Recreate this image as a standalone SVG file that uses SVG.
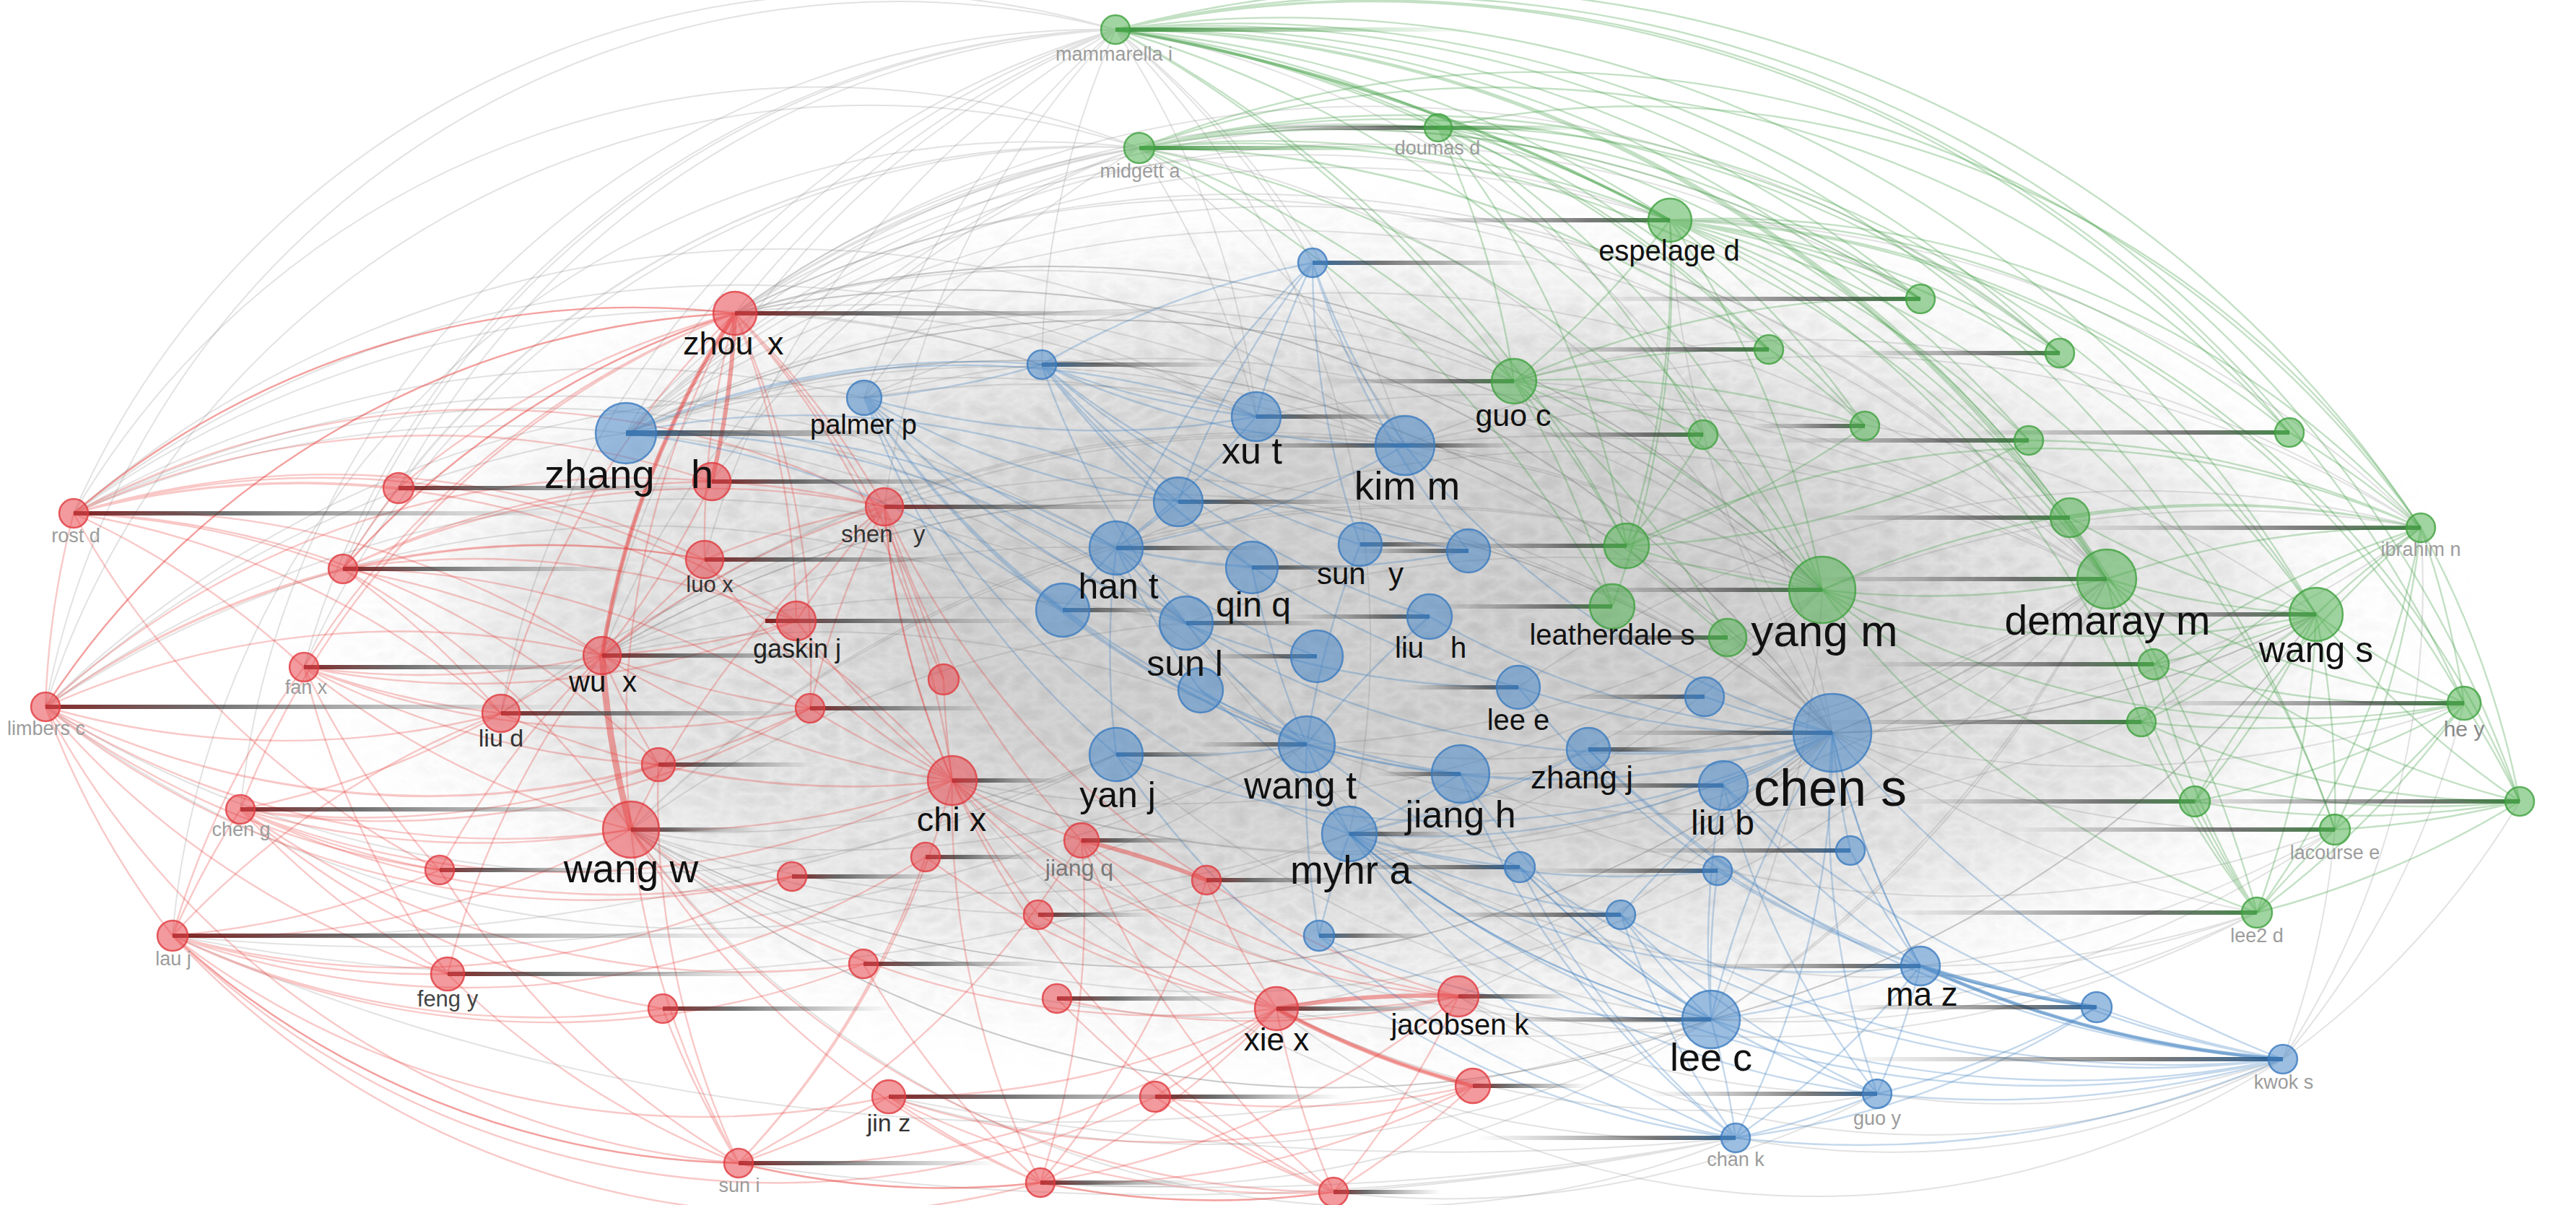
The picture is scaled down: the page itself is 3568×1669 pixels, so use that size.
<svg xmlns="http://www.w3.org/2000/svg" width="3568" height="1669" viewBox="0 0 3568 1669">
<defs>
<style>
.er{fill:none;stroke:#e53935;stroke-opacity:.28;stroke-width:2.4}
.eb{fill:none;stroke:#3b7dc0;stroke-opacity:.3;stroke-width:2.4}
.eg{fill:none;stroke:#43a047;stroke-opacity:.32;stroke-width:2.4}
.ex{fill:none;stroke:#7a7a7a;stroke-opacity:.22;stroke-width:2}
.nr{fill:#e8474c;fill-opacity:.55;stroke:#e0393e;stroke-opacity:.8;stroke-width:2.5}
.nb{fill:#4a89c8;fill-opacity:.55;stroke:#3a7bbf;stroke-opacity:.8;stroke-width:2.5}
.ng{fill:#52b152;fill-opacity:.55;stroke:#3fa13f;stroke-opacity:.8;stroke-width:2.5}
text{font-family:"Liberation Sans",Arial,Helvetica,sans-serif}
.lb{fill:#111;text-anchor:middle}
.ls{fill:#111}
.lf{fill:#9c9c9c;text-anchor:middle;font-size:27px}
.sr{fill:url(#rR)}
.sbr{fill:url(#bR)}
.sbl{fill:url(#bL)}
.sgl{fill:url(#gL)}
.sgr{fill:url(#gR)}
</style>
<linearGradient id="rR"><stop offset="0" stop-color="#7a1010" stop-opacity=".9"/><stop offset=".3" stop-color="#333" stop-opacity=".7"/><stop offset="1" stop-color="#666" stop-opacity="0"/></linearGradient>
<linearGradient id="bR"><stop offset="0" stop-color="#1d5a96" stop-opacity=".9"/><stop offset=".3" stop-color="#333" stop-opacity=".65"/><stop offset="1" stop-color="#666" stop-opacity="0"/></linearGradient>
<linearGradient id="bL" x1="1" x2="0"><stop offset="0" stop-color="#1d5a96" stop-opacity=".9"/><stop offset=".3" stop-color="#333" stop-opacity=".65"/><stop offset="1" stop-color="#666" stop-opacity="0"/></linearGradient>
<linearGradient id="gL" x1="1" x2="0"><stop offset="0" stop-color="#2e7d32" stop-opacity=".9"/><stop offset=".3" stop-color="#333" stop-opacity=".65"/><stop offset="1" stop-color="#666" stop-opacity="0"/></linearGradient>
<linearGradient id="gR"><stop offset="0" stop-color="#2e8d32" stop-opacity=".9"/><stop offset=".4" stop-color="#3c8c3c" stop-opacity=".5"/><stop offset="1" stop-color="#4caf50" stop-opacity="0"/></linearGradient>
<filter id="bl" x="-50%" y="-50%" width="200%" height="200%"><feGaussianBlur stdDeviation="70"/></filter>
<filter id="tex" x="0" y="0" width="1" height="1"><feTurbulence type="turbulence" baseFrequency="0.03 0.05" numOctaves="3" seed="7" result="t"/><feColorMatrix in="t" type="matrix" values="0 0 0 0 0.42 0 0 0 0 0.42 0 0 0 0 0.42 1.6 0 0 0 -0.05"/></filter>
<radialGradient id="mg"><stop offset="0" stop-color="#fff"/><stop offset=".55" stop-color="#fff" stop-opacity=".7"/><stop offset="1" stop-color="#fff" stop-opacity="0"/></radialGradient>
<mask id="mm"><ellipse cx="1900" cy="880" rx="1550" ry="640" fill="url(#mg)"/></mask>
</defs>
<rect width="3568" height="1669" fill="#fff"/>
<g id="haze">
<ellipse cx="1900" cy="880" rx="1250" ry="470" fill="#9e9e9e" opacity=".24" filter="url(#bl)"/>
<ellipse cx="1950" cy="870" rx="750" ry="330" fill="#8a8a8a" opacity=".2" filter="url(#bl)"/>
<rect x="300" y="200" width="3200" height="1400" fill="#000" filter="url(#tex)" mask="url(#mm)" opacity=".45"/>
</g>
<g id="connectors">
<path class="ex" d="M1545 41A1200 1200 0 0 0 102 711M1545 41A1200 1200 0 0 0 63 979M1545 41A1200 1200 0 0 0 475 788M1545 41A1200 1200 0 0 0 552 676M1545 41A1200 1200 0 0 0 1018 434M1545 41A1200 1200 0 0 0 867 600M1545 41A1200 1200 0 0 0 421 924M1545 41A1200 1200 0 0 0 333 1121M1545 41A1200 1200 0 0 0 1197 551M1545 41A1200 1200 0 0 0 1443 505M1545 41A1200 1200 0 0 0 976 775M1545 41A1200 1200 0 0 0 1225 702M1545 41A1200 1200 0 0 0 834 908M1545 41A1200 1200 0 0 0 694 988M1545 41A1200 1200 0 0 1 1740 577M1545 41A1200 1200 0 0 1 1946 617M1545 41A1200 1200 0 0 1 1818 364M1545 41A1200 1200 0 0 1 2538 1015M1545 41A1200 1200 0 0 1 1869 1155"/>
<path class="ex" d="M1578 205A1200 1200 0 0 0 102 711M1578 205A1200 1200 0 0 0 63 979M1578 205A1200 1200 0 0 0 552 676M1578 205A1200 1200 0 0 0 1018 434M1578 205A1200 1200 0 0 0 867 600M1578 205A1200 1200 0 0 0 475 788M1578 205A1200 1200 0 0 0 986 667M1578 205A1200 1200 0 0 0 1197 551M1578 205A1200 1200 0 0 0 834 908M1578 205A1200 1200 0 0 0 421 924M1578 205A1200 1200 0 0 0 239 1296M1578 205A1200 1200 0 0 1 1946 617M1578 205A1200 1200 0 0 1 1740 577M1578 205A1200 1200 0 0 1 2538 1015"/>
<path class="ex" d="M1018 434A1500 1500 0 0 1 1992 177M1018 434A1500 1500 0 0 1 2313 305M1018 434A1500 1500 0 0 1 2660 414M1018 434A1500 1500 0 0 1 2097 528M1018 434A1500 1500 0 0 1 2450 484M1018 434A1500 1500 0 0 1 1946 617M1018 434A1500 1500 0 0 1 1740 577M1018 434A1500 1500 0 0 1 2524 817M1018 434A1500 1500 0 0 1 2538 1015M1018 434A1500 1500 0 0 1 1443 505M1018 434A1500 1500 0 0 1 2853 489"/>
<path class="ex" d="M867 600A1500 1500 0 0 1 1946 617M867 600A1500 1500 0 0 1 2097 528M867 600A1500 1500 0 0 1 2524 817M867 600A1500 1500 0 0 1 2918 802M867 600A1500 1500 0 0 1 2538 1015M867 600A1500 1500 0 0 1 2313 305M867 600A1500 1500 0 0 1 1740 577M867 600A1500 1500 0 0 1 1992 177M867 600A1500 1500 0 0 1 2660 414M867 600A1500 1500 0 0 1 1810 1031"/>
<path class="ex" d="M2538 1015A1500 1500 0 0 0 1018 434M2538 1015A1500 1500 0 0 0 867 600M2538 1015A1500 1500 0 0 0 1197 551M2538 1015A1500 1500 0 0 0 834 908M2538 1015A1500 1500 0 0 0 1225 702M2538 1015A1500 1500 0 0 0 694 988M2538 1015A1500 1500 0 0 0 2918 802M2538 1015A1500 1500 0 0 0 3208 851M2538 1015A1500 1500 0 0 0 3413 974M2538 1015A1500 1500 0 0 1 874 1149M2538 1015A1500 1500 0 0 1 1768 1397M2538 1015A1500 1500 0 0 1 2020 1380M2538 1015A1500 1500 0 0 1 1319 1081M2538 1015A1500 1500 0 0 1 2313 305"/>
<path class="ex" d="M2524 817A1500 1500 0 0 0 867 600M2524 817A1500 1500 0 0 0 1018 434M2524 817A1500 1500 0 0 0 1546 759M2524 817A1500 1500 0 0 0 1643 863M2524 817A1500 1500 0 0 0 1225 702M2524 817A1500 1500 0 0 0 1197 551M2524 817A1500 1500 0 0 1 1810 1031M2524 817A1500 1500 0 0 1 1869 1155M2524 817A1500 1500 0 0 1 1319 1081M2524 817A1500 1500 0 0 1 874 1149M2524 817A1500 1500 0 0 1 2370 1412"/>
<path class="ex" d="M2918 802A1600 1600 0 0 0 1018 434M2918 802A1600 1600 0 0 0 867 600M2918 802A1600 1600 0 0 0 1546 759M2918 802A1600 1600 0 0 0 1740 577M2918 802A1600 1600 0 0 0 1946 617M2918 802A1600 1600 0 0 0 2097 528M2918 802A1600 1600 0 0 0 1197 551M2918 802A1600 1600 0 0 1 1810 1031M2918 802A1600 1600 0 0 1 2023 1072M2918 802A1600 1600 0 0 1 2538 1015M2918 802A1600 1600 0 0 1 874 1149M2918 802A1600 1600 0 0 1 1319 1081M2918 802A1600 1600 0 0 1 2370 1412"/>
<path class="ex" d="M874 1149A1500 1500 0 0 1 1643 863M874 1149A1500 1500 0 0 1 1546 759M874 1149A1500 1500 0 0 1 2524 817M874 1149A1500 1500 0 0 0 1546 1045M874 1149A1500 1500 0 0 0 1810 1031M874 1149A1500 1500 0 0 0 2538 1015M874 1149A1500 1500 0 0 0 1869 1155M874 1149A1500 1500 0 0 0 2370 1412M874 1149A1500 1500 0 0 0 2020 1380"/>
<path class="ex" d="M834 908A1500 1500 0 0 1 1643 863M834 908A1500 1500 0 0 1 1546 759M834 908A1500 1500 0 0 1 1946 617M834 908A1500 1500 0 0 1 2538 1015M834 908A1500 1500 0 0 1 2524 817M834 908A1500 1500 0 0 1 1810 1031"/>
<path class="ex" d="M2370 1412A1500 1500 0 0 1 1319 1081M2370 1412A1500 1500 0 0 1 874 1149M2370 1412A1500 1500 0 0 1 1768 1397M2370 1412A1500 1500 0 0 1 1231 1519M2370 1412A1500 1500 0 0 1 1441 1638M2370 1412A1500 1500 0 0 1 1643 863M2370 1412A1500 1500 0 0 1 1546 1045M2370 1412A1500 1500 0 0 0 2918 802M2370 1412A1500 1500 0 0 0 3208 851"/>
<path class="ex" d="M239 1296A3000 3000 0 0 0 1546 1045M239 1296A3000 3000 0 0 0 1869 1155M239 1296A3000 3000 0 0 0 2370 1412M239 1296A3000 3000 0 0 0 1810 1031"/>
<path class="ex" d="M102 711A1500 1500 0 0 1 1546 759M102 711A1500 1500 0 0 1 1643 863M102 711A1500 1500 0 0 1 1740 577M102 711A1500 1500 0 0 1 1197 551M102 711A1500 1500 0 0 1 867 600M102 711A1500 1500 0 0 1 1443 505M102 711A1500 1500 0 0 1 1946 617"/>
<path class="ex" d="M63 979A1500 1500 0 0 0 1546 1045M63 979A1500 1500 0 0 0 1810 1031M63 979A1500 1500 0 0 1 1472 845M63 979A1500 1500 0 0 1 1643 863M63 979A1500 1500 0 0 1 1197 551M63 979A1500 1500 0 0 1 867 600"/>
<path class="ex" d="M2404 1576A4000 4000 0 0 1 1847 1651M2404 1576A4000 4000 0 0 1 1441 1638M2404 1576A4000 4000 0 0 1 1023 1611M2404 1576A4000 4000 0 0 1 1231 1519M2404 1576A1300 1300 0 0 1 874 1149M2404 1576A1300 1300 0 0 1 1319 1081"/>
<path class="ex" d="M3162 1467A1200 1200 0 0 0 3490 1110M3162 1467A1200 1200 0 0 0 3413 974M3162 1467A1200 1200 0 0 0 3234 1149M3162 1467A1200 1200 0 0 0 3353 731M3162 1467A1200 1200 0 0 1 2404 1576M3162 1467A1200 1200 0 0 1 2020 1380M3162 1467A1200 1200 0 0 1 1768 1397M3162 1467A1200 1200 0 0 1 2600 1515"/>
<path class="ex" d="M2600 1515A1300 1300 0 0 1 2020 1380M2600 1515A1300 1300 0 0 1 1768 1397M2600 1515A1300 1300 0 0 1 1847 1651"/>
<path class="ex" d="M3353 731A1500 1500 0 0 0 1946 617M3353 731A1500 1500 0 0 0 2103 952M3353 731A1500 1500 0 0 0 2524 817M3353 731A1500 1500 0 0 0 2313 305M3353 731A1500 1500 0 0 0 2097 528M3353 731A1500 1500 0 0 1 2538 1015"/>
<path class="ex" d="M3208 851A1500 1500 0 0 1 2538 1015M3208 851A1500 1500 0 0 1 1810 1031M3208 851A1500 1500 0 0 1 2370 1412M3208 851A1500 1500 0 0 0 1946 617"/>
<path class="ex" d="M3234 1149A1500 1500 0 0 1 2538 1015M3234 1149A1500 1500 0 0 1 2370 1412M3234 1149A1500 1500 0 0 1 2660 1338M3234 1149A1500 1500 0 0 1 2023 1072"/>
<path class="ex" d="M3126 1264A1500 1500 0 0 1 2370 1412M3126 1264A1500 1500 0 0 1 2538 1015M3126 1264A1500 1500 0 0 1 2660 1338M3126 1264A1500 1500 0 0 1 2020 1380M3126 1264A1500 1500 0 0 1 1869 1155"/>

<path class="er" d="M102 711A1200 1200 0 0 1 552 676M102 711A1200 1200 0 0 1 475 788M102 711A1200 1200 0 0 1 421 924M102 711A1200 1200 0 0 1 834 908M102 711A1200 1200 0 0 1 694 988M102 711A1200 1200 0 0 1 912 1059M102 711A1200 1200 0 0 1 986 667M102 711A1200 1200 0 0 1 976 775M102 711A1200 1200 0 0 1 1103 860M102 711A1200 1200 0 0 1 1319 1081M102 711A1200 1200 0 0 1 1018 434M102 711A1200 1200 0 0 1 1225 702M102 711A1200 1200 0 0 0 63 979M102 711A1200 1200 0 0 0 609 1205"/>
<path class="er" d="M63 979A1200 1200 0 0 1 475 788M63 979A1200 1200 0 0 1 986 667M63 979A1200 1200 0 0 1 834 908M63 979A1200 1200 0 0 1 976 775M63 979A1200 1200 0 0 1 1018 434M63 979A1200 1200 0 0 0 694 988M63 979A1200 1200 0 0 0 874 1149M63 979A1200 1200 0 0 0 912 1059M63 979A1200 1200 0 0 0 609 1205M63 979A1200 1200 0 0 0 239 1296M63 979A1200 1200 0 0 0 1122 981M63 979A1200 1200 0 0 0 1097 1214M63 979A1200 1200 0 0 0 620 1349M63 979A1200 1200 0 0 0 1023 1611"/>
<path class="er" d="M239 1296A1200 1200 0 0 1 333 1121M239 1296A1200 1200 0 0 1 694 988M239 1296A1200 1200 0 0 1 421 924M239 1296A1200 1200 0 0 0 609 1205M239 1296A1200 1200 0 0 0 620 1349M239 1296A1200 1200 0 0 0 874 1149M239 1296A1200 1200 0 0 0 1097 1214M239 1296A1200 1200 0 0 0 1282 1187M239 1296A1200 1200 0 0 0 1196 1335M239 1296A1200 1200 0 0 0 1023 1611M239 1296A1200 1200 0 0 0 1231 1519M239 1296A1200 1200 0 0 0 1441 1638M239 1296A1200 1200 0 0 0 918 1397M239 1296A1200 1200 0 0 0 1600 1519"/>
<path class="er" d="M333 1121A1200 1200 0 0 0 609 1205M333 1121A1200 1200 0 0 0 874 1149M333 1121A1200 1200 0 0 0 912 1059M333 1121A1200 1200 0 0 0 694 988M333 1121A1200 1200 0 0 0 1122 981M333 1121A1200 1200 0 0 0 1319 1081M333 1121A1200 1200 0 0 0 1097 1214M333 1121A1200 1200 0 0 0 620 1349M333 1121A1200 1200 0 0 0 918 1397M333 1121A1200 1200 0 0 0 1196 1335"/>
<path class="er" d="M475 788A1200 1200 0 0 1 986 667M475 788A1200 1200 0 0 1 976 775M475 788A1200 1200 0 0 1 834 908M475 788A1200 1200 0 0 1 694 988M475 788A1200 1200 0 0 1 1103 860M475 788A1200 1200 0 0 1 1225 702M475 788A1200 1200 0 0 1 1122 981M475 788A1200 1200 0 0 1 874 1149M475 788A1200 1200 0 0 1 1018 434M475 788A1200 1200 0 0 1 552 676"/>
<path class="er" d="M421 924A1200 1200 0 0 0 834 908M421 924A1200 1200 0 0 0 694 988M421 924A1200 1200 0 0 0 912 1059M421 924A1200 1200 0 0 0 874 1149M421 924A1200 1200 0 0 0 1122 981M421 924A1200 1200 0 0 0 1103 860M421 924A1200 1200 0 0 0 609 1205M421 924A1200 1200 0 0 0 620 1349"/>
<path class="er" d="M1018 434A1200 1200 0 0 0 102 711M1018 434A1200 1200 0 0 0 475 788M1018 434A1200 1200 0 0 0 421 924M1018 434A1200 1200 0 0 0 552 676M1018 434A1200 1200 0 0 0 834 908M1018 434A1200 1200 0 0 0 694 988M1018 434A1200 1200 0 0 0 976 775M1018 434A1200 1200 0 0 0 874 1149M1018 434A1200 1200 0 0 0 333 1121M1018 434A1200 1200 0 0 0 63 979M1018 434A1200 1200 0 0 1 1103 860M1018 434A1200 1200 0 0 1 1225 702M1018 434A1200 1200 0 0 1 1307 941M1018 434A1200 1200 0 0 1 1319 1081M1018 434A1200 1200 0 0 1 1122 981"/>
<path class="er" d="M1023 1611A1200 1200 0 0 1 874 1149M1023 1611A1200 1200 0 0 1 912 1059M1023 1611A1200 1200 0 0 1 620 1349M1023 1611A1200 1200 0 0 1 609 1205M1023 1611A1200 1200 0 0 1 239 1296M1023 1611A1200 1200 0 0 1 918 1397M1023 1611A1200 1200 0 0 0 1231 1519M1023 1611A1200 1200 0 0 0 1282 1187M1023 1611A1200 1200 0 0 0 1319 1081M1023 1611A1200 1200 0 0 0 1498 1164M1023 1611A1200 1200 0 0 0 1768 1397M1023 1611A1200 1200 0 0 0 1441 1638"/>
<path class="er" d="M1441 1638A1200 1200 0 0 1 1231 1519M1441 1638A1200 1200 0 0 1 1023 1611M1441 1638A1200 1200 0 0 1 874 1149M1441 1638A1200 1200 0 0 1 1319 1081M1441 1638A1200 1200 0 0 1 1196 1335M1441 1638A1200 1200 0 0 0 1498 1164M1441 1638A1200 1200 0 0 0 1671 1219M1441 1638A1200 1200 0 0 0 1768 1397M1441 1638A1200 1200 0 0 0 2020 1380M1441 1638A1200 1200 0 0 0 1847 1651"/>
<path class="er" d="M1847 1651A1200 1200 0 0 0 2020 1380M1847 1651A1200 1200 0 0 0 2040 1504M1847 1651A1200 1200 0 0 1 1768 1397M1847 1651A1200 1200 0 0 1 1441 1638M1847 1651A1200 1200 0 0 1 1231 1519M1847 1651A1200 1200 0 0 1 1319 1081M1847 1651A1200 1200 0 0 1 1498 1164M1847 1651A1200 1200 0 0 1 874 1149M1847 1651A1200 1200 0 0 1 1464 1383M1847 1651A1200 1200 0 0 1 1600 1519"/>
<path class="er" d="M1768 1397A1200 1200 0 0 1 1319 1081M1768 1397A1200 1200 0 0 1 1498 1164M1768 1397A1200 1200 0 0 1 1282 1187M1768 1397A1200 1200 0 0 1 1438 1267M1768 1397A1200 1200 0 0 1 1231 1519M1768 1397A1200 1200 0 0 1 1600 1519M1768 1397A1200 1200 0 0 1 874 1149M1768 1397A1200 1200 0 0 1 1671 1219"/>
<path class="er" d="M1319 1081A1200 1200 0 0 1 834 908M1319 1081A1200 1200 0 0 1 694 988M1319 1081A1200 1200 0 0 1 912 1059M1319 1081A1200 1200 0 0 1 874 1149M1319 1081A1200 1200 0 0 1 1122 981M1319 1081A1200 1200 0 0 1 1103 860M1319 1081A1200 1200 0 0 1 1307 941M1319 1081A1200 1200 0 0 1 976 775M1319 1081A1200 1200 0 0 1 1225 702M1319 1081A1200 1200 0 0 0 1498 1164M1319 1081A1200 1200 0 0 0 1438 1267"/>
<path class="er" d="M2020 1380A1200 1200 0 0 1 1768 1397M2020 1380A1200 1200 0 0 1 1464 1383M2020 1380A1200 1200 0 0 1 1319 1081M2020 1380A1200 1200 0 0 1 1498 1164M2020 1380A1200 1200 0 0 1 1671 1219M2040 1504A1200 1200 0 0 1 1768 1397M2040 1504A1200 1200 0 0 1 1441 1638M2040 1504A1200 1200 0 0 1 1600 1519M2040 1504A1200 1200 0 0 1 1231 1519"/>
<path class="er" d="M1225 702A1200 1200 0 0 0 986 667M1225 702A1200 1200 0 0 0 976 775M1225 702A1200 1200 0 0 0 1103 860M1225 702A1200 1200 0 0 0 834 908M1225 702A1200 1200 0 0 0 1307 941M1225 702A1200 1200 0 0 0 1122 981M1225 702A1200 1200 0 0 0 874 1149M1225 702A1200 1200 0 0 0 1319 1081M1225 702A1200 1200 0 0 0 1498 1164M1225 702A1200 1200 0 0 0 1671 1219"/>
<path class="er" d="M834 908A1200 1200 0 0 0 694 988M834 908A1200 1200 0 0 0 912 1059M834 908A1200 1200 0 0 0 1122 981M834 908A1200 1200 0 0 0 1103 860M834 908A1200 1200 0 0 0 976 775M834 908A1200 1200 0 0 0 986 667M834 908A1200 1200 0 0 0 609 1205M834 908A1200 1200 0 0 0 620 1349"/>
<path class="er" style="stroke-width:6;stroke-opacity:.45" d="M1018 434A1200 1200 0 0 0 834 908M1018 434A1200 1200 0 0 1 986 667M1768 1397A1200 1200 0 0 1 2020 1380M1498 1164A1200 1200 0 0 1 1671 1219M1768 1397A1200 1200 0 0 0 2040 1504"/>
<path class="er" style="stroke-width:9;stroke-opacity:.45" d="M834 908A1200 1200 0 0 0 874 1149"/>

<path class="eb" d="M3162 1467A1500 1500 0 0 1 2660 1338M3162 1467A1500 1500 0 0 1 2904 1395M3162 1467A1500 1500 0 0 1 2370 1412M3162 1467A1500 1500 0 0 1 2538 1015M3162 1467A1500 1500 0 0 1 2387 1088M3162 1467A1500 1500 0 0 1 2245 1267M3162 1467A1500 1500 0 0 1 2600 1515M3162 1467A1500 1500 0 0 1 2404 1576M3162 1467A1500 1500 0 0 1 2105 1201M3162 1467A1500 1500 0 0 1 1869 1155M3162 1467A1500 1500 0 0 1 2200 1038"/>
<path class="eb" d="M2404 1576A1200 1200 0 0 0 2370 1412M2404 1576A1200 1200 0 0 0 2600 1515M2404 1576A1200 1200 0 0 0 2660 1338M2404 1576A1200 1200 0 0 0 2904 1395M2404 1576A1200 1200 0 0 0 2538 1015M2404 1576A1200 1200 0 0 1 1869 1155M2404 1576A1200 1200 0 0 1 2023 1072M2404 1576A1200 1200 0 0 1 2105 1201M2404 1576A1200 1200 0 0 1 1827 1296M2404 1576A1200 1200 0 0 1 2245 1267M2404 1576A1200 1200 0 0 1 1546 1045"/>
<path class="eb" d="M2600 1515A1200 1200 0 0 1 2370 1412M2600 1515A1200 1200 0 0 1 2538 1015M2600 1515A1200 1200 0 0 1 2387 1088M2600 1515A1200 1200 0 0 1 2245 1267M2600 1515A1200 1200 0 0 1 2105 1201M2600 1515A1200 1200 0 0 1 1869 1155M2600 1515A1200 1200 0 0 0 2660 1338M2600 1515A1200 1200 0 0 0 2904 1395"/>
<path class="eb" d="M2660 1338A1200 1200 0 0 1 2538 1015M2660 1338A1200 1200 0 0 1 2387 1088M2660 1338A1200 1200 0 0 1 2370 1412M2660 1338A1200 1200 0 0 1 2379 1206M2660 1338A1200 1200 0 0 1 2563 1178M2660 1338A1200 1200 0 0 1 2200 1038M2660 1338A1200 1200 0 0 1 2103 952M2660 1338A1200 1200 0 0 1 1869 1155M2660 1338A1200 1200 0 0 0 2904 1395"/>
<path class="eb" d="M867 600A1200 1200 0 0 1 1443 505M867 600A1200 1200 0 0 1 1546 759M867 600A1200 1200 0 0 1 1632 695M867 600A1200 1200 0 0 1 1740 577M867 600A1200 1200 0 0 1 1472 845M867 600A1200 1200 0 0 1 1643 863"/>
<path class="eb" d="M1197 551A1200 1200 0 0 0 1443 505M1197 551A1200 1200 0 0 0 1740 577M1197 551A1200 1200 0 0 0 1632 695M1197 551A1200 1200 0 0 0 1546 759M1197 551A1200 1200 0 0 0 1472 845M1197 551A1200 1200 0 0 0 1643 863M1197 551A1200 1200 0 0 0 1546 1045M1197 551A1200 1200 0 0 0 1810 1031M1197 551A1200 1200 0 0 0 1869 1155M1197 551A1200 1200 0 0 0 2103 952M1197 551A1200 1200 0 0 0 2023 1072"/>
<path class="eb" d="M1443 505A1200 1200 0 0 0 1740 577M1443 505A1200 1200 0 0 0 1946 617M1443 505A1200 1200 0 0 0 1632 695M1443 505A1200 1200 0 0 0 1734 786M1443 505A1200 1200 0 0 0 1884 754M1443 505A1200 1200 0 0 0 2034 763M1443 505A1200 1200 0 0 0 1643 863M1443 505A1200 1200 0 0 0 1980 854M1443 505A1200 1200 0 0 0 2103 952"/>
<path class="eb" d="M1818 364A1200 1200 0 0 0 1740 577M1818 364A1200 1200 0 0 0 1946 617M1818 364A1200 1200 0 0 0 1632 695M1818 364A1200 1200 0 0 0 1884 754M1818 364A1200 1200 0 0 0 2034 763M1818 364A1200 1200 0 0 0 1546 759M1818 364A1200 1200 0 0 0 1443 505"/>
<path class="eb" d="M2538 1015A1200 1200 0 0 1 2387 1088M2538 1015A1200 1200 0 0 1 2361 965M2538 1015A1200 1200 0 0 1 2200 1038M2538 1015A1200 1200 0 0 1 2103 952M2538 1015A1200 1200 0 0 1 2023 1072M2538 1015A1200 1200 0 0 1 1980 854M2538 1015A1200 1200 0 0 1 1946 617M2538 1015A1200 1200 0 0 1 1869 1155M2538 1015A1200 1200 0 0 1 1810 1031M2538 1015A1200 1200 0 0 1 1643 863M2538 1015A1200 1200 0 0 1 1546 1045M2538 1015A1200 1200 0 0 0 2660 1338M2538 1015A1200 1200 0 0 0 2370 1412M2538 1015A1200 1200 0 0 0 2563 1178M2538 1015A1200 1200 0 0 0 2245 1267"/>
<path class="eb" d="M1810 1031A1200 1200 0 0 1 1546 1045M1810 1031A1200 1200 0 0 1 1643 863M1810 1031A1200 1200 0 0 1 1663 956M1810 1031A1200 1200 0 0 1 1734 786M1810 1031A1200 1200 0 0 1 1884 754M1810 1031A1200 1200 0 0 1 1980 854M1810 1031A1200 1200 0 0 1 1472 845M1810 1031A1200 1200 0 0 0 2023 1072M1810 1031A1200 1200 0 0 0 1869 1155M1810 1031A1200 1200 0 0 0 2105 1201M1810 1031A1200 1200 0 0 0 1827 1296"/>
<path class="eb" d="M1546 759A1200 1200 0 0 0 1632 695M1546 759A1200 1200 0 0 0 1740 577M1546 759A1200 1200 0 0 0 1734 786M1546 759A1200 1200 0 0 0 1643 863M1546 759A1200 1200 0 0 0 1472 845M1546 759A1200 1200 0 0 0 1663 956M1546 759A1200 1200 0 0 0 1824 909M1546 759A1200 1200 0 0 0 1946 617M1546 759A1200 1200 0 0 0 2034 763M1546 759A1200 1200 0 0 0 1546 1045"/>
<path class="eb" d="M1869 1155A1200 1200 0 0 0 1827 1296M1869 1155A1200 1200 0 0 0 2105 1201M1869 1155A1200 1200 0 0 0 2245 1267M1869 1155A1200 1200 0 0 0 2023 1072M1869 1155A1200 1200 0 0 0 2200 1038M1869 1155A1200 1200 0 0 0 2379 1206M1869 1155A1200 1200 0 0 0 1663 956M1869 1155A1200 1200 0 0 0 2370 1412"/>
<path class="eb" d="M2370 1412A1200 1200 0 0 1 2245 1267M2370 1412A1200 1200 0 0 1 2105 1201M2370 1412A1200 1200 0 0 1 2379 1206M2370 1412A1200 1200 0 0 1 2387 1088M2370 1412A1200 1200 0 0 1 2023 1072M2370 1412A1200 1200 0 0 1 1869 1155M2370 1412A1200 1200 0 0 1 1827 1296"/>
<path class="eb" style="stroke-width:5;stroke-opacity:.55" d="M3162 1467A1500 1500 0 0 1 2660 1338M2904 1395A1500 1500 0 0 1 2660 1338"/>

<path class="eg" d="M1545 41A1650 1650 0 0 1 1992 177M1545 41A1650 1650 0 0 1 2313 305M1545 41A1650 1650 0 0 1 2660 414M1545 41A1650 1650 0 0 1 2853 489M1545 41A1650 1650 0 0 1 3171 599M1545 41A1650 1650 0 0 1 3353 731M1545 41A1650 1650 0 0 1 3208 851M1545 41A1650 1650 0 0 1 3413 974M1545 41A1650 1650 0 0 1 3490 1110M1545 41A1650 1650 0 0 1 3234 1149M1545 41A1650 1650 0 0 1 3126 1264M1545 41A1650 1650 0 0 1 2918 802M1545 41A1650 1650 0 0 1 2524 817M1545 41A1650 1650 0 0 1 2810 610M1545 41A1650 1650 0 0 1 2583 590M1545 41A1650 1650 0 0 1 2097 528M1545 41A1650 1650 0 0 1 2253 756M1545 41A1650 1650 0 0 1 2450 484M1545 41A1650 1650 0 0 1 2983 920"/>
<path class="eg" d="M1578 205A1500 1500 0 0 1 1992 177M1578 205A1500 1500 0 0 1 2313 305M1578 205A1500 1500 0 0 1 2660 414M1578 205A1500 1500 0 0 1 2853 489M1578 205A1500 1500 0 0 1 3171 599M1578 205A1500 1500 0 0 1 3353 731M1578 205A1500 1500 0 0 1 2918 802M1578 205A1500 1500 0 0 1 2524 817M1578 205A1500 1500 0 0 1 2097 528M1578 205A1500 1500 0 0 1 2583 590M1578 205A1500 1500 0 0 1 2450 484M1578 205A1500 1500 0 0 1 3208 851M1578 205A1500 1500 0 0 1 2233 840"/>
<path class="eg" d="M1992 177A1300 1300 0 0 1 2313 305M1992 177A1300 1300 0 0 1 2660 414M1992 177A1300 1300 0 0 1 2853 489M1992 177A1300 1300 0 0 1 2097 528M1992 177A1300 1300 0 0 1 2524 817M1992 177A1300 1300 0 0 1 2918 802M1992 177A1300 1300 0 0 1 2450 484M1992 177A1300 1300 0 0 1 2359 602M1992 177A1300 1300 0 0 1 2253 756M1992 177A1300 1300 0 0 1 3353 731"/>
<path class="eg" d="M2313 305A1300 1300 0 0 1 2660 414M2313 305A1300 1300 0 0 1 2853 489M2313 305A1300 1300 0 0 1 3171 599M2313 305A1300 1300 0 0 1 3353 731M2313 305A1300 1300 0 0 1 2918 802M2313 305A1300 1300 0 0 1 2524 817M2313 305A1300 1300 0 0 1 2583 590M2313 305A1300 1300 0 0 1 2810 610M2313 305A1300 1300 0 0 1 3208 851M2313 305A1300 1300 0 0 1 3413 974M2313 305A1300 1300 0 0 1 3490 1110M2313 305A1300 1300 0 0 1 3234 1149M2313 305A1300 1300 0 0 1 2253 756M2313 305A1300 1300 0 0 1 2097 528M2313 305A1300 1300 0 0 1 2233 840M2313 305A1300 1300 0 0 1 2966 1000"/>
<path class="eg" d="M3353 731A1300 1300 0 0 0 2918 802M3353 731A1300 1300 0 0 0 2867 717M3353 731A1300 1300 0 0 0 2524 817M3353 731A1300 1300 0 0 0 3208 851M3353 731A1300 1300 0 0 0 2810 610M3353 731A1300 1300 0 0 0 3171 599M3353 731A1300 1300 0 0 0 2983 920M3353 731A1300 1300 0 0 0 2966 1000M3353 731A1300 1300 0 0 0 3040 1110M3353 731A1300 1300 0 0 0 2253 756M3353 731A1300 1300 0 0 1 3413 974M3353 731A1300 1300 0 0 1 3490 1110M3353 731A1300 1300 0 0 1 3234 1149M3353 731A1300 1300 0 0 1 3126 1264"/>
<path class="eg" d="M3413 974A1300 1300 0 0 1 3208 851M3413 974A1300 1300 0 0 1 2918 802M3413 974A1300 1300 0 0 1 2983 920M3413 974A1300 1300 0 0 1 2966 1000M3413 974A1300 1300 0 0 1 3040 1110M3413 974A1300 1300 0 0 1 3234 1149M3413 974A1300 1300 0 0 1 3126 1264M3413 974A1300 1300 0 0 1 2524 817M3413 974A1300 1300 0 0 1 3490 1110"/>
<path class="eg" d="M3490 1110A1300 1300 0 0 1 3234 1149M3490 1110A1300 1300 0 0 1 3126 1264M3490 1110A1300 1300 0 0 1 3208 851M3490 1110A1300 1300 0 0 1 2918 802M3490 1110A1300 1300 0 0 1 2966 1000M3490 1110A1300 1300 0 0 1 3040 1110M3490 1110A1300 1300 0 0 1 2524 817"/>
<path class="eg" d="M3208 851A1300 1300 0 0 1 2918 802M3208 851A1300 1300 0 0 1 2983 920M3208 851A1300 1300 0 0 1 2966 1000M3208 851A1300 1300 0 0 1 3040 1110M3208 851A1300 1300 0 0 1 2867 717M3208 851A1300 1300 0 0 1 2524 817M3208 851A1300 1300 0 0 1 3234 1149M3208 851A1300 1300 0 0 1 3126 1264"/>
<path class="eg" d="M3126 1264A1300 1300 0 0 1 3040 1110M3126 1264A1300 1300 0 0 1 2966 1000M3126 1264A1300 1300 0 0 1 3234 1149M3126 1264A1300 1300 0 0 1 2918 802M3126 1264A1300 1300 0 0 1 2983 920M3126 1264A1300 1300 0 0 1 2524 817"/>
<path class="eg" d="M2097 528A1300 1300 0 0 1 2253 756M2097 528A1300 1300 0 0 1 2233 840M2097 528A1300 1300 0 0 1 2393 883M2097 528A1300 1300 0 0 1 2524 817M2097 528A1300 1300 0 0 1 2359 602M2097 528A1300 1300 0 0 1 2583 590M2097 528A1300 1300 0 0 1 2450 484M2097 528A1300 1300 0 0 1 2660 414M2253 756A1300 1300 0 0 0 2524 817M2253 756A1300 1300 0 0 0 2393 883M2253 756A1300 1300 0 0 0 2583 590M2253 756A1300 1300 0 0 0 2359 602M2253 756A1300 1300 0 0 0 2918 802M2253 756A1300 1300 0 0 0 2810 610"/>
<path class="eg" style="stroke-width:4;stroke-opacity:.55" d="M1545 41A2500 2500 0 0 1 2313 305"/>

<rect class="sr" x="102" y="708" width="700" height="6"/>
<rect class="sr" x="63" y="976" width="750" height="6"/>
<rect class="sr" x="239" y="1293" width="850" height="6"/>
<rect class="sr" x="333" y="1118" width="550" height="6"/>
<rect class="sr" x="421" y="921" width="450" height="6"/>
<rect class="sr" x="475" y="785" width="400" height="6"/>
<rect class="sr" x="552" y="673" width="420" height="6"/>
<rect class="sr" x="1018" y="431" width="600" height="6"/>
<rect class="sr" x="986" y="664" width="380" height="6"/>
<rect class="sr" x="976" y="772" width="380" height="6"/>
<rect class="sr" x="1225" y="699" width="380" height="6"/>
<rect class="sr" x="1060" y="857" width="380" height="6"/>
<rect class="sr" x="834" y="905" width="330" height="6"/>
<rect class="sr" x="694" y="985" width="420" height="6"/>
<rect class="sr" x="1122" y="978" width="260" height="6"/>
<rect class="sr" x="912" y="1056" width="220" height="6"/>
<rect class="sr" x="874" y="1146" width="180" height="6"/>
<rect class="sr" x="1319" y="1078" width="160" height="6"/>
<rect class="sr" x="609" y="1202" width="260" height="6"/>
<rect class="sr" x="620" y="1346" width="460" height="6"/>
<rect class="sr" x="1097" y="1211" width="220" height="6"/>
<rect class="sr" x="1282" y="1184" width="160" height="6"/>
<rect class="sr" x="1498" y="1161" width="160" height="6"/>
<rect class="sr" x="1671" y="1216" width="200" height="6"/>
<rect class="sr" x="1438" y="1264" width="160" height="6"/>
<rect class="sr" x="1196" y="1332" width="260" height="6"/>
<rect class="sr" x="918" y="1394" width="320" height="6"/>
<rect class="sr" x="1464" y="1380" width="260" height="6"/>
<rect class="sr" x="1231" y="1516" width="520" height="6"/>
<rect class="sr" x="1600" y="1516" width="260" height="6"/>
<rect class="sr" x="1023" y="1608" width="360" height="6"/>
<rect class="sr" x="1441" y="1635" width="220" height="6"/>
<rect class="sr" x="1768" y="1394" width="220" height="6"/>
<rect class="sr" x="2020" y="1377" width="160" height="6"/>
<rect class="sr" x="2040" y="1501" width="160" height="6"/>
<rect class="sr" x="1847" y="1648" width="150" height="6"/>

<rect class="sbr" x="867" y="596" width="400" height="8"/>
<rect class="sbr" x="1443" y="502" width="260" height="6"/>
<rect class="sbr" x="1818" y="361" width="320" height="6"/>
<rect class="sbr" x="1740" y="574" width="220" height="6"/>
<rect class="sbr" x="1946" y="614" width="160" height="6"/>
<rect class="sbr" x="1632" y="692" width="260" height="6"/>
<rect class="sbr" x="1546" y="756" width="220" height="6"/>
<rect class="sbr" x="1734" y="783" width="160" height="6"/>
<rect class="sbr" x="1884" y="751" width="160" height="6"/>
<rect class="sbr" x="1472" y="842" width="160" height="6"/>
<rect class="sbr" x="1643" y="860" width="200" height="6"/>
<rect class="sbr" x="1546" y="1042" width="160" height="6"/>
<rect class="sbr" x="2200" y="1035" width="160" height="6"/>
<rect class="sbr" x="1827" y="1293" width="160" height="6"/>
<rect class="sbr" x="1869" y="1152" width="150" height="6"/>
<rect class="sbl" x="1696" y="614" width="250" height="6"/>
<rect class="sbl" x="1874" y="760" width="160" height="6"/>
<rect class="sbl" x="1780" y="851" width="200" height="6"/>
<rect class="sbl" x="1664" y="906" width="160" height="6"/>
<rect class="sbl" x="1943" y="949" width="160" height="6"/>
<rect class="sbl" x="2161" y="962" width="200" height="6"/>
<rect class="sbl" x="2218" y="1012" width="320" height="6"/>
<rect class="sbl" x="1650" y="1028" width="160" height="6"/>
<rect class="sbl" x="1903" y="1069" width="120" height="6"/>
<rect class="sbl" x="2127" y="1085" width="260" height="6"/>
<rect class="sbl" x="1845" y="1198" width="260" height="6"/>
<rect class="sbl" x="2119" y="1203" width="260" height="6"/>
<rect class="sbl" x="2243" y="1175" width="320" height="6"/>
<rect class="sbl" x="1985" y="1264" width="260" height="6"/>
<rect class="sbl" x="2340" y="1335" width="320" height="6"/>
<rect class="sbl" x="2544" y="1392" width="360" height="6"/>
<rect class="sbl" x="2050" y="1409" width="320" height="6"/>
<rect class="sbl" x="2542" y="1464" width="620" height="6"/>
<rect class="sbl" x="2280" y="1512" width="320" height="6"/>
<rect class="sbl" x="2044" y="1573" width="360" height="6"/>

<rect class="sgr" x="1545" y="38" width="500" height="6"/>
<rect class="sgr" x="1578" y="202" width="400" height="6"/>
<rect class="sgr" x="1992" y="174" width="200" height="6"/>
<rect class="sgl" x="1732" y="174" width="260" height="6"/>
<rect class="sgl" x="1933" y="302" width="380" height="6"/>
<rect class="sgl" x="2200" y="411" width="460" height="6"/>
<rect class="sgl" x="2130" y="481" width="320" height="6"/>
<rect class="sgl" x="2553" y="486" width="300" height="6"/>
<rect class="sgl" x="1837" y="525" width="260" height="6"/>
<rect class="sgl" x="2099" y="599" width="260" height="6"/>
<rect class="sgl" x="2423" y="587" width="160" height="6"/>
<rect class="sgl" x="2450" y="607" width="360" height="6"/>
<rect class="sgl" x="2711" y="596" width="460" height="6"/>
<rect class="sgl" x="2507" y="714" width="360" height="6"/>
<rect class="sgl" x="2833" y="728" width="520" height="6"/>
<rect class="sgl" x="1993" y="753" width="260" height="6"/>
<rect class="sgl" x="2164" y="814" width="360" height="6"/>
<rect class="sgl" x="2498" y="799" width="420" height="6"/>
<rect class="sgl" x="1973" y="837" width="260" height="6"/>
<rect class="sgl" x="2173" y="880" width="220" height="6"/>
<rect class="sgl" x="2848" y="848" width="360" height="6"/>
<rect class="sgl" x="2563" y="917" width="420" height="6"/>
<rect class="sgl" x="2953" y="971" width="460" height="6"/>
<rect class="sgl" x="2506" y="997" width="460" height="6"/>
<rect class="sgl" x="2620" y="1107" width="420" height="6"/>
<rect class="sgl" x="2970" y="1107" width="520" height="6"/>
<rect class="sgl" x="2774" y="1146" width="460" height="6"/>
<rect class="sgl" x="2606" y="1261" width="520" height="6"/>
</g>

<g id="n-rost-d"><circle class="nr" cx="102" cy="711" r="20"/><text class="lf" x="105" y="751">rost d</text></g>
<g id="n-limbers-c"><circle class="nr" cx="63" cy="979" r="20"/><text class="lf" x="64" y="1018">limbers c</text></g>
<g id="n-r3"><circle class="nr" cx="552" cy="676" r="21"/></g>
<g id="n-r4"><circle class="nr" cx="475" cy="788" r="20"/></g>
<g id="n-fan-x"><circle class="nr" cx="421" cy="924" r="20"/><text class="lf" x="424" y="961">fan x</text></g>
<g id="n-wu-x"><circle class="nr" cx="834" cy="908" r="26"/><text class="ls" x="788" y="958" font-size="40">wu<tspan x="862">x</tspan></text></g>
<g id="n-liu-d"><circle class="nr" cx="694" cy="988" r="26"/><text class="lb" x="694" y="1034" font-size="34" style="fill:#333">liu d</text></g>
<g id="n-chen-g"><circle class="nr" cx="333" cy="1121" r="20"/><text class="lf" x="334" y="1158">chen g</text></g>
<g id="n-r9"><circle class="nr" cx="609" cy="1205" r="20"/></g>
<g id="n-lau-j"><circle class="nr" cx="239" cy="1296" r="21"/><text class="lf" x="240" y="1337">lau j</text></g>
<g id="n-feng-y"><circle class="nr" cx="620" cy="1349" r="23"/><text class="lb" x="620" y="1394" font-size="31" style="fill:#444">feng y</text></g>
<g id="n-r13"><circle class="nr" cx="912" cy="1059" r="23"/></g>
<g id="n-zhou-x"><circle class="nr" cx="1018" cy="434" r="30"/><text class="ls" x="946" y="491" font-size="45">zhou<tspan x="1063">x</tspan></text></g>
<g id="n-r15"><circle class="nr" cx="986" cy="667" r="26"/></g>
<g id="n-luo-x"><circle class="nr" cx="976" cy="775" r="26"/><text class="lb" x="983" y="820" font-size="31" style="fill:#333">luo x</text></g>
<g id="n-shen-y"><circle class="nr" cx="1225" cy="702" r="26"/><text class="ls" x="1165" y="751" font-size="33" style="fill:#333">shen<tspan x="1265">y</tspan></text></g>
<g id="n-gaskin-j"><circle class="nr" cx="1103" cy="860" r="27"/><text class="lb" x="1104" y="911" font-size="36" style="fill:#222">gaskin j</text></g>
<g id="n-r19"><circle class="nr" cx="1122" cy="981" r="20"/></g>
<g id="n-r20"><circle class="nr" cx="1307" cy="941" r="21"/></g>
<g id="n-r23"><circle class="nr" cx="1282" cy="1187" r="20"/></g>
<g id="n-r24"><circle class="nr" cx="1097" cy="1214" r="20"/></g>
<g id="n-r25"><circle class="nr" cx="1671" cy="1219" r="20"/></g>
<g id="n-r26"><circle class="nr" cx="1438" cy="1267" r="20"/></g>
<g id="n-r27"><circle class="nr" cx="1196" cy="1335" r="20"/></g>
<g id="n-r28"><circle class="nr" cx="918" cy="1397" r="20"/></g>
<g id="n-r29"><circle class="nr" cx="1464" cy="1383" r="20"/></g>
<g id="n-r32"><circle class="nr" cx="1600" cy="1519" r="21"/></g>
<g id="n-r34"><circle class="nr" cx="1441" cy="1638" r="20"/></g>
<g id="n-r36"><circle class="nr" cx="2040" cy="1504" r="24"/></g>
<g id="n-r37"><circle class="nr" cx="1847" cy="1651" r="20"/></g>
<g id="n-wang-w"><circle class="nr" cx="874" cy="1149" r="39"/><text class="lb" x="874" y="1222" font-size="55">wang w</text></g>
<g id="n-chi-x"><circle class="nr" cx="1319" cy="1081" r="34"/><text class="lb" x="1318" y="1151" font-size="47">chi x</text></g>
<g id="n-jiang-q"><circle class="nr" cx="1498" cy="1164" r="24"/><text class="lb" x="1495" y="1213" font-size="32" style="fill:#777">jiang q</text></g>
<g id="n-xie-x"><circle class="nr" cx="1768" cy="1397" r="30"/><text class="lb" x="1768" y="1455" font-size="44">xie x</text></g>
<g id="n-jin-z"><circle class="nr" cx="1231" cy="1519" r="23"/><text class="lb" x="1231" y="1567" font-size="34" style="fill:#333">jin z</text></g>
<g id="n-sun-i"><circle class="nr" cx="1023" cy="1611" r="20"/><text class="lf" x="1024" y="1651">sun i</text></g>
<g id="n-jacobsen-k"><circle class="nr" cx="2020" cy="1380" r="28"/><text class="lb" x="2022" y="1433" font-size="40">jacobsen k</text></g>

<g id="n-mammarella-i"><circle class="ng" cx="1545" cy="41" r="20"/><text class="lf" x="1543" y="84" font-size="28">mammarella i</text></g>
<g id="n-midgett-a"><circle class="ng" cx="1578" cy="205" r="21"/><text class="lf" x="1579" y="246">midgett a</text></g>
<g id="n-doumas-d"><circle class="ng" cx="1992" cy="177" r="19"/><text class="lf" x="1991" y="214">doumas d</text></g>
<g id="n-espelage-d"><circle class="ng" cx="2313" cy="305" r="30"/><text class="lb" x="2312" y="361" font-size="40">espelage d</text></g>
<g id="n-g5"><circle class="ng" cx="2660" cy="414" r="20"/></g>
<g id="n-g6"><circle class="ng" cx="2450" cy="484" r="20"/></g>
<g id="n-g7"><circle class="ng" cx="2853" cy="489" r="20"/></g>
<g id="n-guo-c"><circle class="ng" cx="2097" cy="528" r="31"/><text class="lb" x="2096" y="590" font-size="43">guo c</text></g>
<g id="n-g9"><circle class="ng" cx="2359" cy="602" r="20"/></g>
<g id="n-g10"><circle class="ng" cx="2583" cy="590" r="20"/></g>
<g id="n-g11"><circle class="ng" cx="2810" cy="610" r="20"/></g>
<g id="n-g12"><circle class="ng" cx="3171" cy="599" r="20"/></g>
<g id="n-g13"><circle class="ng" cx="2867" cy="717" r="27"/></g>
<g id="n-ibrahim-n"><circle class="ng" cx="3353" cy="731" r="20"/><text class="lf" x="3353" y="770">ibrahim n</text></g>
<g id="n-g15"><circle class="ng" cx="2253" cy="756" r="31"/></g>
<g id="n-g19"><circle class="ng" cx="2393" cy="883" r="26"/></g>
<g id="n-leatherdale-s"><circle class="ng" cx="2233" cy="840" r="31"/><text class="lb" x="2233" y="893" font-size="40">leatherdale s</text></g>
<g id="n-yang-m"><circle class="ng" cx="2524" cy="817" r="46"/><text class="lb" x="2527" y="895" font-size="62">yang m</text></g>
<g id="n-demaray-m"><circle class="ng" cx="2918" cy="802" r="41"/><text class="lb" x="2919" y="879" font-size="57">demaray m</text></g>
<g id="n-wang-s"><circle class="ng" cx="3208" cy="851" r="37"/><text class="lb" x="3208" y="917" font-size="50">wang s</text></g>
<g id="n-g21"><circle class="ng" cx="2983" cy="920" r="21"/></g>
<g id="n-he-y"><circle class="ng" cx="3413" cy="974" r="23"/><text class="lb" x="3413" y="1020" font-size="30" style="fill:#888">he y</text></g>
<g id="n-g23"><circle class="ng" cx="2966" cy="1000" r="20"/></g>
<g id="n-g24"><circle class="ng" cx="3040" cy="1110" r="21"/></g>
<g id="n-g25"><circle class="ng" cx="3490" cy="1110" r="20"/></g>
<g id="n-lacourse-e"><circle class="ng" cx="3234" cy="1149" r="21"/><text class="lf" x="3234" y="1190">lacourse e</text></g>
<g id="n-lee2-d"><circle class="ng" cx="3126" cy="1264" r="21"/><text class="lf" x="3126" y="1305" font-size="28">lee2 d</text></g>

<g id="n-b3"><circle class="nb" cx="1443" cy="505" r="20"/></g>
<g id="n-b4"><circle class="nb" cx="1818" cy="364" r="20"/></g>
<g id="n-b7"><circle class="nb" cx="1632" cy="695" r="34"/></g>
<g id="n-b11"><circle class="nb" cx="2034" cy="763" r="30"/></g>
<g id="n-b12"><circle class="nb" cx="1472" cy="845" r="37"/></g>
<g id="n-b15"><circle class="nb" cx="1824" cy="909" r="36"/></g>
<g id="n-b16"><circle class="nb" cx="1663" cy="956" r="31"/></g>
<g id="n-b18"><circle class="nb" cx="2361" cy="965" r="27"/></g>
<g id="n-b26"><circle class="nb" cx="2105" cy="1201" r="21"/></g>
<g id="n-b27"><circle class="nb" cx="2379" cy="1206" r="20"/></g>
<g id="n-b28"><circle class="nb" cx="2563" cy="1178" r="20"/></g>
<g id="n-b29"><circle class="nb" cx="2245" cy="1267" r="20"/></g>
<g id="n-b30"><circle class="nb" cx="1827" cy="1296" r="21"/></g>
<g id="n-b32"><circle class="nb" cx="2904" cy="1395" r="21"/></g>
<g id="n-zhang-h"><circle class="nb" cx="867" cy="600" r="42"/><text class="ls" x="754" y="676" font-size="56">zhang<tspan x="957">h</tspan></text></g>
<g id="n-palmer-p"><circle class="nb" cx="1197" cy="551" r="24"/><text class="lb" x="1196" y="601" font-size="38">palmer p</text></g>
<g id="n-xu-t"><circle class="nb" cx="1740" cy="577" r="34"/><text class="lb" x="1734" y="642" font-size="52">xu t</text></g>
<g id="n-kim-m"><circle class="nb" cx="1946" cy="617" r="41"/><text class="lb" x="1949" y="692" font-size="55">kim m</text></g>
<g id="n-han-t"><circle class="nb" cx="1546" cy="759" r="37"/><text class="lb" x="1549" y="829" font-size="50">han t</text></g>
<g id="n-qin-q"><circle class="nb" cx="1734" cy="786" r="36"/><text class="lb" x="1736" y="854" font-size="48">qin q</text></g>
<g id="n-sun-y"><circle class="nb" cx="1884" cy="754" r="30"/><text class="ls" x="1824" y="809" font-size="42">sun<tspan x="1923">y</tspan></text></g>
<g id="n-sun-l"><circle class="nb" cx="1643" cy="863" r="37"/><text class="lb" x="1641" y="936" font-size="50">sun l</text></g>
<g id="n-liu-h"><circle class="nb" cx="1980" cy="854" r="31"/><text class="ls" x="1932" y="911" font-size="40">liu<tspan x="2009">h</tspan></text></g>
<g id="n-lee-e"><circle class="nb" cx="2103" cy="952" r="30"/><text class="lb" x="2103" y="1011" font-size="40">lee e</text></g>
<g id="n-yan-j"><circle class="nb" cx="1546" cy="1045" r="37"/><text class="lb" x="1548" y="1118" font-size="50">yan j</text></g>
<g id="n-wang-t"><circle class="nb" cx="1810" cy="1031" r="39"/><text class="lb" x="1801" y="1106" font-size="53">wang t</text></g>
<g id="n-jiang-h"><circle class="nb" cx="2023" cy="1072" r="40"/><text class="lb" x="2023" y="1146" font-size="52">jiang h</text></g>
<g id="n-zhang-j"><circle class="nb" cx="2200" cy="1038" r="30"/><text class="lb" x="2191" y="1092" font-size="44">zhang j</text></g>
<g id="n-liu-b"><circle class="nb" cx="2387" cy="1088" r="34"/><text class="lb" x="2386" y="1156" font-size="48">liu b</text></g>
<g id="n-myhr-a"><circle class="nb" cx="1869" cy="1155" r="38"/><text class="lb" x="1871" y="1224" font-size="55">myhr a</text></g>
<g id="n-ma-z"><circle class="nb" cx="2660" cy="1338" r="27"/><text class="lb" x="2662" y="1393" font-size="46">ma z</text></g>
<g id="n-lee-c"><circle class="nb" cx="2370" cy="1412" r="40"/><text class="lb" x="2370" y="1483" font-size="54">lee c</text></g>
<g id="n-kwok-s"><circle class="nb" cx="3162" cy="1467" r="20"/><text class="lf" x="3163" y="1508">kwok s</text></g>
<g id="n-guo-y"><circle class="nb" cx="2600" cy="1515" r="20"/><text class="lf" x="2600" y="1558" font-size="28">guo y</text></g>
<g id="n-chan-k"><circle class="nb" cx="2404" cy="1576" r="20"/><text class="lf" x="2404" y="1615" font-size="28">chan k</text></g>
<g id="n-chen-s"><circle class="nb" cx="2538" cy="1015" r="54"/><text class="lb" x="2535" y="1116" font-size="72">chen s</text></g>
</svg>
